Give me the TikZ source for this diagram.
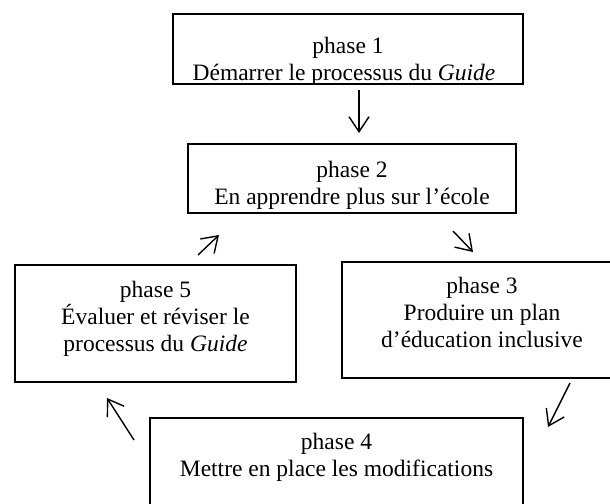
\documentclass[tikz,border=0pt]{standalone}
\usepackage{fontspec}
\setmainfont{Liberation Serif}
\usepackage{tikz}
\usetikzlibrary{arrows.meta,positioning,calc}
\newcommand{\phasetext}[4]{\parbox[c][#2][t]{#1}{\centering\rule{0pt}{#3}#4}}

\begin{document}
\begin{tikzpicture}[x=1pt,y=-1pt,
  phase/.style={draw, line width=1.9pt, inner sep=0pt, font=\fontsize{23.5}{27}\selectfont},
  flow/.style={line width=1.4pt, -{Straight Barb[length=15pt,width=20pt,line width=1.4pt]}}]
\fill[white] (0,0) rectangle (610,503);
\useasboundingbox (0,0) rectangle (610,503);

\node[phase] (p1) at (348,49) {\phasetext{350pt}{70pt}{40pt}{phase 1\\D\'emarrer le processus du \emph{Guide}\hspace*{8pt}}};
\node[phase] (p2) at (352,178.5) {\phasetext{328pt}{69pt}{33pt}{phase 2\\En apprendre plus sur l’\'ecole}};
\node[phase] (p3) at (482,320) {\phasetext{280pt}{116pt}{31pt}{phase 3\\Produire un plan\\d’\'education inclusive}};
\node[phase] (p4) at (336.5,476) {\phasetext{373pt}{116pt}{31pt}{phase 4\\Mettre en place les modifications}};
\node[phase] (p5) at (155.5,323.5) {\phasetext{281pt}{117pt}{32pt}{phase 5\\\'Evaluer et r\'eviser le\\processus du \emph{Guide}}};

\coordinate (a12s) at (359,90);  \coordinate (a12e) at (359,133);
\coordinate (a23s) at (453,231); \coordinate (a23e) at (473,252);
\coordinate (a34s) at (570,383); \coordinate (a34e) at (548,427);
\coordinate (a45s) at (134,440); \coordinate (a45e) at (107,398);
\coordinate (a52s) at (198,255); \coordinate (a52e) at (219,235);

\draw[flow] (a12s) -- (a12e);
\draw[flow] (a23s) -- (a23e);
\draw[flow] (a34s) -- (a34e);
\draw[flow] (a45s) -- (a45e);
\draw[flow] (a52s) -- (a52e);
\end{tikzpicture}
\end{document}
